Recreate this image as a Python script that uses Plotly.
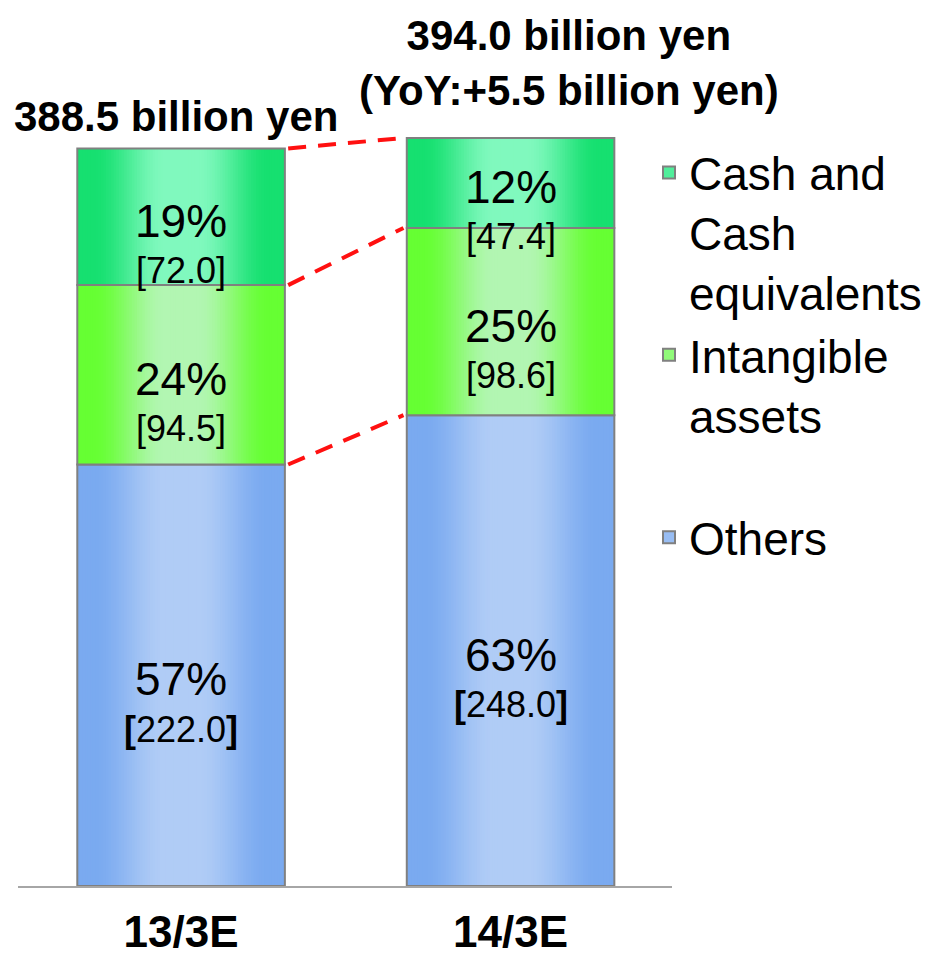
import plotly.graph_objects as go

categories = ["13/3E", "14/3E"]
others = [222.0, 248.0]
intangible = [94.5, 98.6]
cash = [72.0, 47.4]

series = [
    # name, values, edge colour, light colour, bold brackets
    ("Others", others, (122, 170, 240), (176, 204, 246), True),
    ("Intangible<br>assets<br> ", intangible, (102, 255, 51), (178, 246, 178), False),
    ("Cash and<br>Cash<br>equivalents", cash, (22, 224, 112), (128, 249, 190), False),
]

FONT = "Liberation Sans, Arial, sans-serif"
xpos = [0, 1]
bar_w = 0.63
N = 40
W, H = 926, 953  # page body adds an 8px margin


def mix(c1, c2, t):
    return "rgb(%d,%d,%d)" % tuple(round(a + (b - a) * t) for a, b in zip(c1, c2))


def shade(edge, light, d):
    t = min(max((d - 0.15) / (0.85 - 0.15), 0), 1)
    s = t * t * (3 - 2 * t)
    return mix(light, edge, s)


totals = [sum(v) for v in zip(others, intangible, cash)]

fig = go.Figure()

bases = [0.0, 0.0]
levels = []
annotations = []
for name, vals, edge, light, bold in series:
    # horizontal gradient made of nested bars
    for k in range(N):
        d = 1 - k / N
        fig.add_trace(go.Bar(
            x=xpos, y=vals, base=bases, width=bar_w * d,
            marker=dict(color=shade(edge, light, d - 0.5 / N), line=dict(width=0)),
            showlegend=False, hoverinfo="skip"))
    fig.add_trace(go.Bar(
        x=xpos, y=vals, base=bases, width=bar_w,
        marker=dict(color="rgba(0,0,0,0)", line=dict(color="#808080", width=2)),
        showlegend=False, hoverinfo="skip"))
    for i in range(2):
        mid = bases[i] + vals[i] / 2
        pct = round(vals[i] / totals[i] * 100)
        annotations.append(dict(x=xpos[i], y=mid, text="%d%%" % pct, showarrow=False,
                                yshift=-4, font=dict(size=46, color="black", family=FONT)))
        br = ("<b>[</b>%.1f<b>]</b>" if bold else "[%.1f]") % vals[i]
        annotations.append(dict(x=xpos[i], y=mid, text=br, showarrow=False,
                                yshift=-54, font=dict(size=36, color="black", family=FONT)))
    bases = [b + v for b, v in zip(bases, vals)]
    levels.append(list(bases))

# legend entries (top to bottom)
for name, vals, edge, light, bold in reversed(series):
    fig.add_trace(go.Bar(
        x=[None], y=[None], name=name,
        marker=dict(color=mix(edge, light, 0.55), line=dict(color="#808080", width=2))))

# dashed connector lines between the bars
for lv in levels:
    fig.add_trace(go.Scatter(
        x=[xpos[0] + bar_w / 2 + 0.01, xpos[1] - bar_w / 2 - 0.01], y=lv,
        mode="lines", line=dict(color="#ff1010", width=4, dash="18px,12px"),
        showlegend=False, hoverinfo="skip"))

annotations.append(dict(
    x=xpos[0], y=totals[0], text="<b>%.1f billion yen</b>" % totals[0],
    showarrow=False, yanchor="bottom", yshift=6, xshift=-5,
    font=dict(size=42, color="black", family=FONT)))
annotations.append(dict(
    x=xpos[1], y=totals[1],
    text="<b>%.1f billion yen<br>(YoY:+%.1f billion yen)</b>" % (totals[1], totals[1] - totals[0]),
    showarrow=False, yanchor="bottom", yshift=22, xshift=58,
    font=dict(size=42, color="black", family=FONT)))

fig.update_layout(
    width=W, height=H,
    barmode="overlay",
    plot_bgcolor="white", paper_bgcolor="white",
    margin=dict(l=10, r=262, t=92, b=75, autoexpand=False),
    font=dict(family=FONT, color="black"),
    xaxis=dict(range=[-0.495, 1.49], tickvals=xpos,
               ticktext=["<b>%s</b>" % c for c in categories],
               tickfont=dict(size=44, family=FONT, color="black"),
               ticks="outside", ticklen=6, tickcolor="rgba(0,0,0,0)",
               showline=True, linecolor="#a6a6a6", linewidth=2,
               showgrid=False, zeroline=False, automargin=False),
    yaxis=dict(range=[0, 414], visible=False),
    legend=dict(xref="container", yref="container", x=641 / W, y=1 - 128 / H,
                xanchor="left", yanchor="top", valign="top", traceorder="normal",
                font=dict(size=46, family=FONT, color="black"),
                bgcolor="rgba(0,0,0,0)", tracegroupgap=0, itemwidth=30),
    annotations=annotations,
    showlegend=True,
)

fig.write_html("out.html")
